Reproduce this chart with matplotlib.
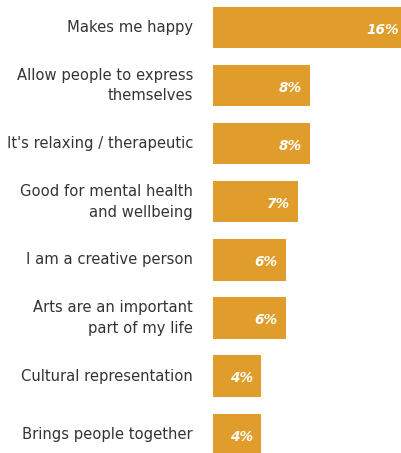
import matplotlib.pyplot as plt
import numpy as np

reasons = [
  "Makes me happy",
  "Allow people to express\nthemselves",
  "It's relaxing / therapeutic",
  "Good for mental health\nand wellbeing",
  "I am a creative person",
  "Arts are an important\npart of my life",
  "Cultural representation",
  "Brings people together",
]
shares = [16, 8, 8, 7, 6, 6, 4, 4]

bar_color = '#E09D2B'

fig = plt.figure(figsize=(4.02, 4.53), dpi=100)
ax = fig.add_axes([213 / 402, 0, 189 / 402, 1])

y_pos = np.arange(len(reasons))
ax.barh(y_pos, shares, height=0.71, color=bar_color)

ax.set_xlim(0, 189 / 12.1)
ax.set_ylim((453 - 27.5) / 58.1, -27.5 / 58.1)
ax.axis('off')

for y, label, val in zip(y_pos, reasons, shares):
  ax.text(-20 / 12.1, y, label, ha='right', va='center', fontsize=10.6,
          family='DejaVu Sans', color='#333333', linespacing=1.45)
  ax.text(val - 8 / 12.1, y + 0.04, "{}%".format(val), ha='right', va='center',
          fontsize=9.8, fontweight='bold', fontstyle='italic',
          family='DejaVu Sans', color='white')

fig.savefig("out.png", dpi=100)
